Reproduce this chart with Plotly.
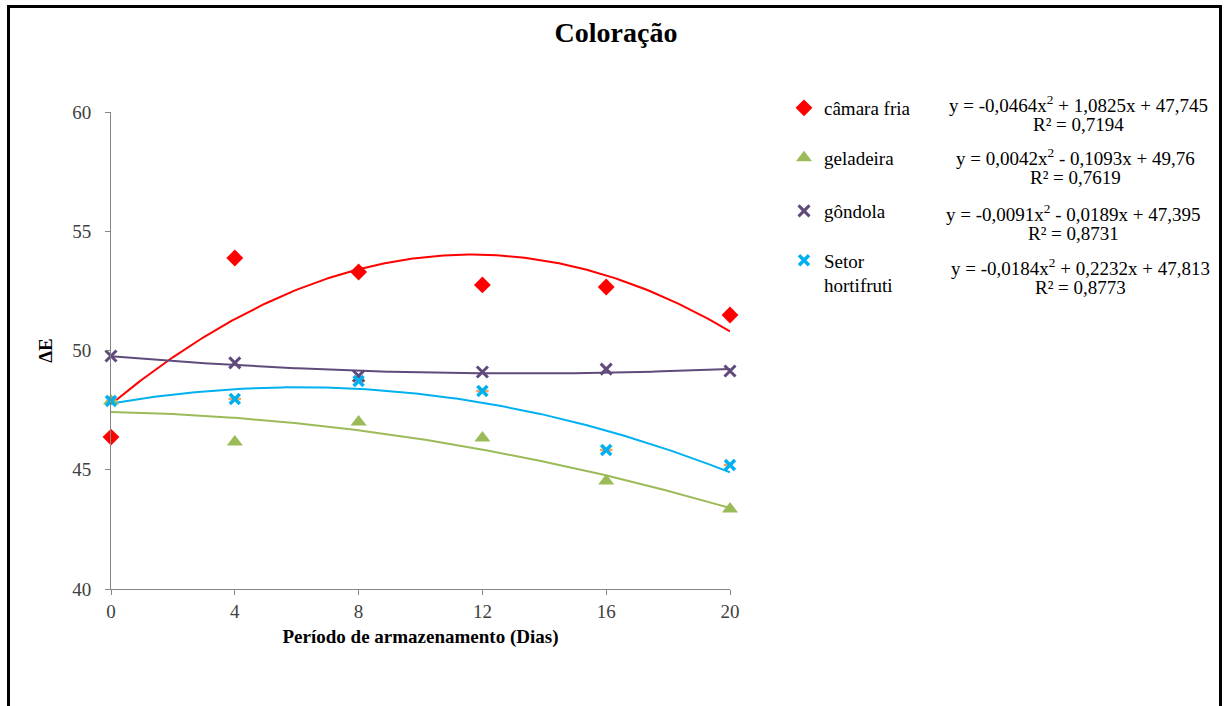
import numpy as np
import plotly.graph_objects as go

dias = [0, 4, 8, 12, 16, 20]
camara_fria = [46.37, 53.88, 53.29, 52.75, 52.66, 51.49]
geladeira = [47.88, 46.16, 47.00, 46.33, 44.53, 43.35]
gondola = [49.77, 49.48, 48.93, 49.10, 49.22, 49.14]
hortifruti = [47.88, 47.97, 48.72, 48.30, 45.83, 45.20]

nomes = ["câmara fria", "geladeira", "gôndola", "Setor<br>hortifruti"]
equacoes = [
    "y = -0,0464x<sup>2</sup> + 1,0825x + 47,745",
    "y = 0,0042x<sup>2</sup> - 0,1093x + 49,76",
    "y = -0,0091x<sup>2</sup> - 0,0189x + 47,395",
    "y = -0,0184x<sup>2</sup> + 0,2232x + 47,813",
]
r2 = ["R² = 0,7194", "R² = 0,7619", "R² = 0,8731", "R² = 0,8773"]
cores = ["#FF0000", "#9BBB59", "#604A7B", "#00B0F0"]
series = [camara_fria, geladeira, gondola, hortifruti]

W, H = 1226, 706
L, R = 111, W - 730
T, B = 112, H - 589
PW, PH = W - L - R, H - T - B

def px_x(p):
    return (p - L) / PW

def px_y(p):
    return (H - B - p) / PH

FONT = "Liberation Serif"
FS = 19
fig = go.Figure()

xs = np.linspace(0, 20, 200)
for ys, cor in zip(series, cores):
    coef = np.polyfit(dias, ys, 2)
    fig.add_trace(go.Scatter(x=xs, y=np.polyval(coef, xs), mode="lines",
                             line=dict(color=cor, width=2), showlegend=False,
                             hoverinfo="skip"))

markers = [
    dict(symbol="diamond", size=13, color=cores[0]),
    dict(symbol="triangle-up", size=14, color=cores[1]),
    dict(symbol="x-thin-open", size=11, color=cores[2], line=dict(color=cores[2], width=3)),
    dict(symbol="x-thin-open", size=10, color=cores[3], line=dict(color=cores[3], width=3.5)),
]
# extra bars of the star marker of "Setor hortifruti"
fig.add_trace(go.Scatter(x=dias, y=hortifruti, mode="markers", showlegend=False,
                         marker=dict(symbol="line-ew-open", size=9,
                                     line=dict(color=cores[3], width=2.5)),
                         hoverinfo="skip"))
for i, (nome, ys) in enumerate(zip(nomes, series)):
    lg = "legend" if i == 0 else f"legend{i+1}"
    fig.add_trace(go.Scatter(x=dias, y=ys, mode="markers", name=nome,
                             marker=markers[i], legend=lg, cliponaxis=False))

legend_common = dict(font=dict(family=FONT, size=FS, color="#000000"),
                     bgcolor="rgba(0,0,0,0)", xanchor="left", yanchor="middle",
                     valign="top", itemwidth=30)
leg_y = [108, 158, 211, 273]
layout_legends = {}
for i, yy in enumerate(leg_y):
    key = "legend" if i == 0 else f"legend{i+1}"
    layout_legends[key] = dict(legend_common, x=px_x(784), y=px_y(yy))

eq_cx = [1078, 1075, 1073, 1080]
eq_y1 = [104, 157, 213, 267]
annotations = []
for eq, rr, cx, cy in zip(equacoes, r2, eq_cx, eq_y1):
    annotations.append(dict(text=eq, x=px_x(cx), y=px_y(cy), xref="paper", yref="paper",
                            xanchor="center", yanchor="middle", showarrow=False,
                            font=dict(family=FONT, size=FS, color="#000000")))
    annotations.append(dict(text=rr, x=px_x(cx), y=px_y(cy + 20), xref="paper", yref="paper",
                            xanchor="center", yanchor="middle", showarrow=False,
                            font=dict(family=FONT, size=FS, color="#000000")))

fig.update_layout(
    width=W, height=H,
    margin=dict(l=L, r=R, t=T, b=B),
    paper_bgcolor="white", plot_bgcolor="white",
    title=dict(text="<b>Coloração</b>", x=616 / W, xref="container",
               y=1 - 32 / H, yref="container",
               xanchor="center", yanchor="middle",
               font=dict(family=FONT, size=28, color="#000000")),
    font=dict(family=FONT, size=FS, color="#404040"),
    annotations=annotations,
    shapes=[dict(type="rect", xref="paper", yref="paper",
                 x0=px_x(8.5), x1=px_x(1220.5), y0=px_y(760), y1=px_y(6.5),
                 line=dict(color="black", width=3), layer="above")],
    **layout_legends,
)
fig.update_xaxes(range=[0, 20], tickvals=dias, showgrid=False, zeroline=False,
                 showline=True, linecolor="#868686", linewidth=1,
                 ticks="outside", ticklen=5, tickcolor="#868686",
                 tickfont=dict(family=FONT, size=FS, color="#404040"),
                 title=dict(text="<b>Período de armazenamento (Dias)</b>", standoff=8,
                            font=dict(family=FONT, size=FS, color="#000000")))
fig.update_yaxes(range=[40, 60], tickvals=[40, 45, 50, 55, 60], showgrid=False, zeroline=False,
                 showline=True, linecolor="#868686", linewidth=1,
                 ticks="outside", ticklen=5, tickcolor="#868686", ticklabelstandoff=10,
                 tickfont=dict(family=FONT, size=FS, color="#404040"),
                 title=dict(text="<b>ΔE</b>", standoff=14,
                            font=dict(family=FONT, size=FS, color="#000000")))

fig.write_html("out.html", config={"displayModeBar": False},
               post_script="document.body.style.margin='0';document.body.style.overflow='hidden';")
